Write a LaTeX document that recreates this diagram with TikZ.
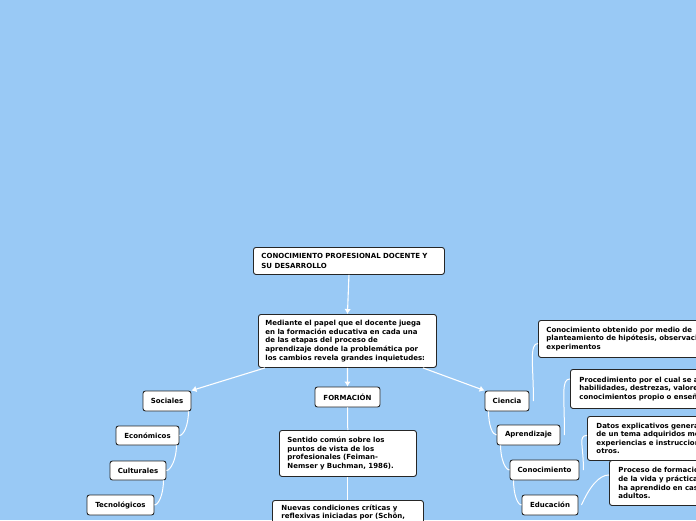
\documentclass[tikz,border=0pt]{standalone}
\usepackage{fontspec}
\setmainfont{DejaVu Sans}
\usetikzlibrary{arrows.meta}
\definecolor{mapbg}{RGB}{153,201,245}
\tikzset{
    box/.style={draw=black!85, fill=white, line width=0.9pt, rounded corners=2.5pt,
                font=\fontsize{7}{8.6}\selectfont\bfseries, inner ysep=3pt},
    tag/.style={box, inner xsep=2pt, minimum height=20pt},
    note/.style={box, align=left, anchor=north west, inner xsep=8pt},
    arrow/.style={draw=white, line width=1.1pt, -{Latex[length=5pt,width=6.5pt]}},
    link/.style={draw=white, line width=1pt},
}
\begin{document}
\begin{tikzpicture}[x=1pt, y=1pt]
        \fill [mapbg] (0,0) rectangle (696,-520);
        \useasboundingbox (0,0) rectangle (696,-520);

        % centre column
        \node (title) [note, text width=175pt, minimum height=27pt,
                       font=\fontsize{7}{9.3}\selectfont\bfseries] at (253,-247)
            {CONOCIMIENTO PROFESIONAL DOCENTE Y\\SU DESARROLLO};
        \node (med) [note, text width=164pt, inner xsep=7pt, minimum height=53pt] at (258,-314)
            {Mediante el papel que el docente juega\\en la formación educativa en cada una\\de las etapas del proceso de\\aprendizaje donde la problemática por\\los cambios revela grandes inquietudes:};
        \node (form) [tag, minimum width=65pt] at (347.5,-397) {FORMACIÓN};
        \node (sen) [note, text width=121pt, minimum height=46pt] at (279,-430)
            {Sentido común sobre los\\puntos de vista de los\\profesionales (Feiman-\\Nemser y Buchman, 1986).};
        \node (nue) [note, text width=133pt, inner xsep=9pt, inner ysep=4pt] at (272,-500)
            {Nuevas condiciones críticas y\\reflexivas iniciadas por (Schön,};

        % left branch
        \node (soc) [tag, minimum width=48pt] at (167,-401) {Sociales};
        \node (eco) [tag, minimum width=63pt, minimum height=19pt] at (147.5,-435.5) {Económicos};
        \node (cul) [tag, minimum width=56pt, minimum height=19pt] at (138,-470.5) {Culturales};
        \node (tec) [tag, minimum width=67pt] at (120.5,-505) {Tecnológicos};

        % right branch
        \node (cie) [tag, minimum width=44pt] at (507,-401) {Ciencia};
        \node (apr) [tag, minimum width=63pt] at (528.5,-435) {Aprendizaje};
        \node (con) [tag, minimum width=69pt] at (544.5,-470) {Conocimiento};
        \node (edu) [tag, minimum width=56pt] at (550,-505) {Educación};

        \node (cob) [note, text width=200pt, minimum height=37pt] at (538,-320)
            {Conocimiento obtenido por medio de\\planteamiento de hipótesis, observación\\experimentos};
        \node (pro) [note, text width=190pt, inner xsep=9pt, minimum height=39pt] at (570,-369)
            {Procedimiento por el cual se adquieren\\habilidades, destrezas, valores\\conocimientos propio o enseñado};
        \node (dat) [note, text width=190pt, inner xsep=9pt, minimum height=44pt] at (587,-416)
            {Datos explicativos generales\\de un tema adquiridos mediante\\experiencias e instrucciones\\otros.};
        \node (prc) [note, text width=190pt, inner xsep=9pt, minimum height=45pt] at (609,-460)
            {Proceso de formación\\de la vida y práctica\\ha aprendido en casa\\adultos.};

        \draw [arrow] (title.south) -- (med.north);
        \draw [arrow] (med.south) -- (form.north);
        \draw [arrow] ([xshift=7pt]med.south west) -- (soc.north east);
        \draw [arrow] ([xshift=-14pt]med.south east) -- (cie.north west);

        \path [link] (form) edge (sen)
                     (sen) edge (nue);

        \draw [link] ([xshift=-3pt]soc.south east) .. controls +(0,-14) and +(4,0) .. (eco.east);
        \draw [link] ([xshift=-3pt]eco.south east) .. controls +(0,-14) and +(4,0) .. (cul.east);
        \draw [link] ([xshift=-3pt]cul.south east) .. controls +(0,-14) and +(4,0) .. (tec.east);

        \draw [link] ([xshift=4pt]cie.south west) .. controls +(0,-14) and +(-4,0) .. (apr.west);
        \draw [link] ([xshift=4pt]apr.south west) .. controls +(0,-14) and +(-4,0) .. (con.west);
        \draw [link] ([xshift=4pt]con.south west) .. controls +(0,-14) and +(-4,0) .. (edu.west);

        \draw [link] ([xshift=4pt]cie.east) .. controls +(0,35) and +(-9,0) .. ([yshift=-4.5pt]cob.west);
        \draw [link] ([xshift=4pt]apr.east) .. controls +(0,40) and +(-9,0) .. ([yshift=10pt]pro.west);
        \draw [link] ([xshift=4pt]con.east) .. controls +(0,25) and +(-9,0) .. ([yshift=3pt]dat.west);
        \draw [link] ([xshift=3pt]edu.east) .. controls +(8,18) and +(-10,0) .. ([yshift=8pt]prc.west);
    \end{tikzpicture}
\end{document}
